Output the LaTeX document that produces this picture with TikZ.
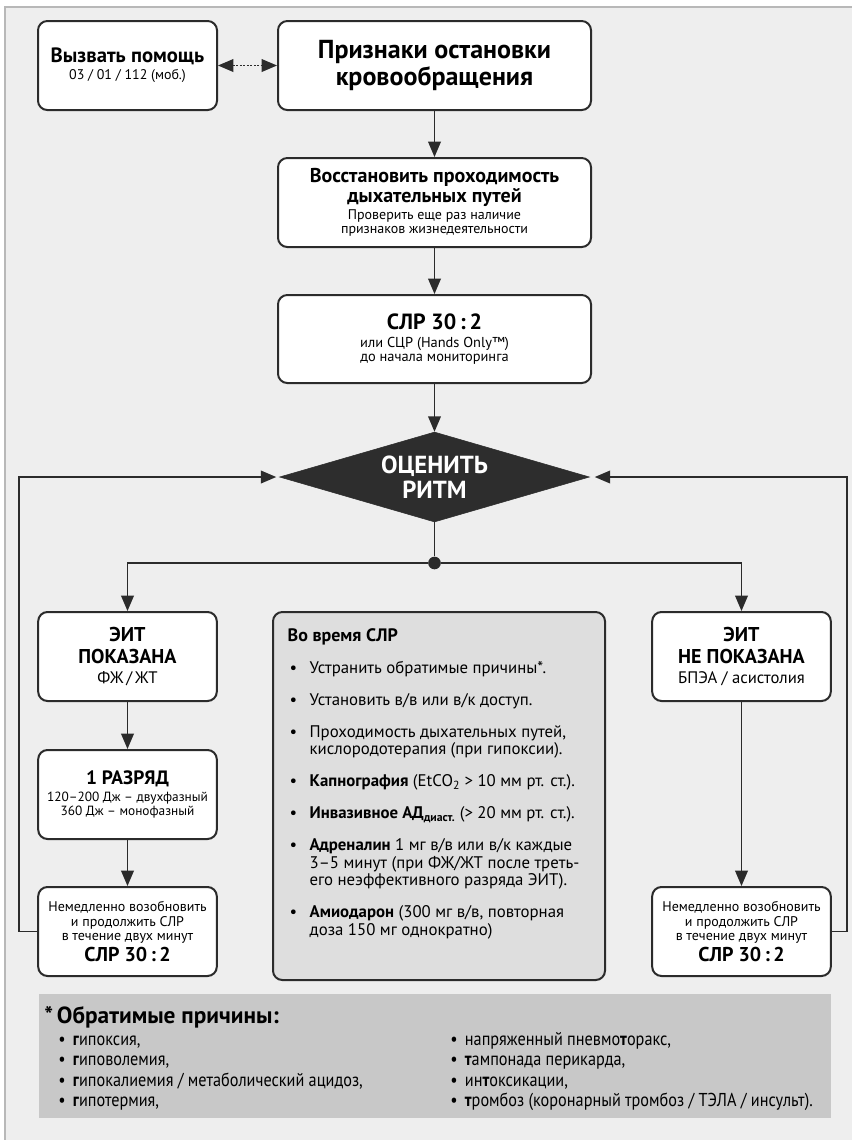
\documentclass[tikz,border=0pt]{standalone}
\usepackage{fontspec}
\setmainfont{PT Sans}
\newfontfamily\condfont[FakeStretch=0.87]{PT Sans}
\usetikzlibrary{shapes.geometric,arrows.meta,calc}
\definecolor{bd}{HTML}{2B2B2B}
\definecolor{panel}{HTML}{EEEEEE}
\definecolor{framec}{HTML}{B8B8B8}
\definecolor{hfill}{HTML}{DEDEDE}
\definecolor{lfill}{HTML}{C8C8C8}
\definecolor{diafill}{HTML}{2D2D2D}
\newcommand\fs[2]{\fontsize{#1}{#2}\selectfont\lineskiplimit=-20pt\relax}
\newcommand\nl{\hfil\break}
\newcommand\hb[1]{\par\hangindent=16.5pt\hangafter=1\noindent\makebox[16.5pt][l]{\hspace{1.5pt}•}#1}
\newcommand\lb[1]{\strut\makebox[11pt][l]{•}#1}
\begin{document}
\begin{tikzpicture}[x=0.75pt,y=-0.75pt,
  box/.style={draw=bd, line width=1.5pt, rounded corners=7pt, fill=white, align=center, inner sep=2pt},
  sbox/.style={box, minimum width=134pt, minimum height=66.75pt},
  wbox/.style={box, minimum width=234.75pt, minimum height=66.75pt},
  conn/.style={draw=bd, line width=1.1pt},
  tip/.tip={Triangle[length=11.5pt,width=9.5pt]},
  arr/.style={conn, -tip},
  legtext/.style={anchor=north west, inner sep=0pt, align=left, font=\condfont\fs{14}{15.4}},
]
\useasboundingbox (0,0) rectangle (852,1140);
\fill[panel] (5,7) rectangle (852,1140);
\draw[framec, line width=1.1pt] (5,1140) -- (5,7) -- (852,7);
\coordinate (lx) at (19,0);
\coordinate (rx) at (847,0);

% top row
\node[box, minimum width=134.25pt, minimum height=66.75pt, font=\fs{10.5}{12}] (A) at (127.5,65.5)
  {{\fs{15.5}{16}\bfseries Вызвать помощь}\\[0.5pt]03 / 01 / 112 (моб.)};
\node[wbox, font=\fs{19.5}{20.25}\bfseries] (B) at (434.5,65.5) {Признаки остановки\\кровообращения};
\node[wbox, font=\fs{10.5}{10.5}] (C) at (434.5,202.5)
  {{\fs{15}{15}\bfseries Восстановить проходимость}\\[4.5pt]{\fs{15}{15}\bfseries дыхательных путей}\\[2.6pt]Проверить еще раз наличие\\признаков жизнедеятельности};
\node[wbox, minimum height=66pt, font=\fs{10.8}{10.5}] (D) at (434.5,339)
  {{\fs{16.5}{18}\bfseries СЛР 30\,:\,2}\\[2.5pt]или СЦР (Hands Only™)\\до начала мониторинга};
\node[diamond, fill=diafill, draw=diafill, minimum width=232.5pt, minimum height=67.5pt, inner sep=0pt,
  label={[text=white, align=center, font=\fs{18.5}{18.75}\bfseries]center:ОЦЕНИТЬ\\РИТМ}] (dia) at (434.5,477) {};
\node[circle, fill=bd, minimum size=9.5pt, inner sep=0pt] (dot) at (434.5,563) {};

% left column
\node[sbox, font=\fs{12.5}{15}] (E) at (127.5,656.5)
  {{\fs{15}{16}\bfseries ЭИТ}\\[1.5pt]{\fs{15}{16}\bfseries ПОКАЗАНА}\\ФЖ\,/\,ЖТ};
\node[sbox, font=\fs{10}{10.5}] (F) at (127.5,794.5)
  {{\fs{14.5}{16}\bfseries 1 РАЗРЯД}\\[2.25pt]120–200 Дж – двухфазный\\360 Дж – монофазный};
\node[sbox, font=\fs{10.5}{10.9}] (G) at (127.5,931.5)
  {Немедленно возобновить\\и продолжить СЛР\\в течение двух минут\\[4.75pt]{\fs{15}{16}\bfseries СЛР 30\,:\,2}};

% right column
\node[sbox, font=\fs{12.5}{15}] (I) at (741.5,656.5)
  {{\fs{15}{16}\bfseries ЭИТ}\\[1.5pt]{\fs{15}{16}\bfseries НЕ ПОКАЗАНА}\\БПЭА / асистолия};
\node[sbox, font=\fs{10.5}{10.9}] (J) at (741.5,931.5)
  {Немедленно возобновить\\и продолжить СЛР\\в течение двух минут\\[4.75pt]{\fs{15}{16}\bfseries СЛР 30\,:\,2}};

% centre box
\node[box, fill=hfill, minimum width=249pt, minimum height=276pt, inner sep=7pt, align=left] (H) at (439,796)
  {\parbox[c][262pt][t]{227pt}{\raggedright\fs{12.6}{13.1}\setlength{\parskip}{0pt}%
   \vspace*{5.5pt}{\fs{13.5}{13.1}\bfseries Во время СЛР}\par
   \setlength{\parskip}{10.9pt}%
   \hb{Устранить обратимые причины*.}
   \hb{Установить в/в или в/к доступ.}
   \hb{Проходимость дыхательных путей,\nl кислородотерапия (при гипоксии).}
   \hb{\textbf{Капнография} (EtCO\textsubscript{2} > 10 мм рт. ст.).}
   \hb{\textbf{Инвазивное АД}\textsubscript{\textbf{диаст.}} (> 20 мм рт. ст.).}
   \hb{\textbf{Адреналин} 1 мг в/в или в/к каждые\nl 3–5 минут (при ФЖ/ЖТ после треть-\nl его неэффективного разряда ЭИТ).}
   \hb{\textbf{Амиодарон} (300 мг в/в, повторная\nl доза 150 мг однократно)}\par}};

% legend
\node[fill=lfill, minimum width=594pt, minimum height=93pt, inner sep=0pt] (L) at (435,1056) {};
\node[anchor=base west, inner sep=0pt, font=\fs{17.5}{18}\bfseries] (Lt) at (44,1023) {*\,Обратимые причины:};
\node[legtext] (L1) at (58,1030.6)
  {\lb{\textbf{г}ипоксия,}\\\lb{\textbf{г}иповолемия,}\\\lb{\textbf{г}ипокалиемия / метаболический ацидоз,}\\\lb{\textbf{г}ипотермия,}};
\node[legtext] (L2) at (450,1030.6)
  {\lb{напряженный пневмо\textbf{т}оракс,}\\\lb{\textbf{т}ампонада перикарда,}\\\lb{ин\textbf{т}оксикации,}\\\lb{\textbf{т}ромбоз (коронарный тромбоз / ТЭЛА / инсульт).}};

% connectors
\draw[conn, dash pattern=on 1.3pt off 1.3pt, tip-tip] (A) -- (B);
\draw[arr] (B) -- (C);
\draw[arr] (C) -- (D);
\draw[arr] (D) -- (dia);
\draw[conn] (dia.south) -- (dot);
\draw[arr] (dot) -| (E.north);
\draw[arr] (dot) -| (I.north);
\draw[arr] (E) -- (F);
\draw[arr] (F) -- (G);
\draw[arr] (I) -- (J);
\draw[arr, shorten >=2.25pt] (G.west) -- (G.west -| lx) |- (dia.west);
\draw[arr, shorten >=3.75pt] (J.east) -- (J.east -| rx) |- (dia.east);
\end{tikzpicture}
\end{document}
